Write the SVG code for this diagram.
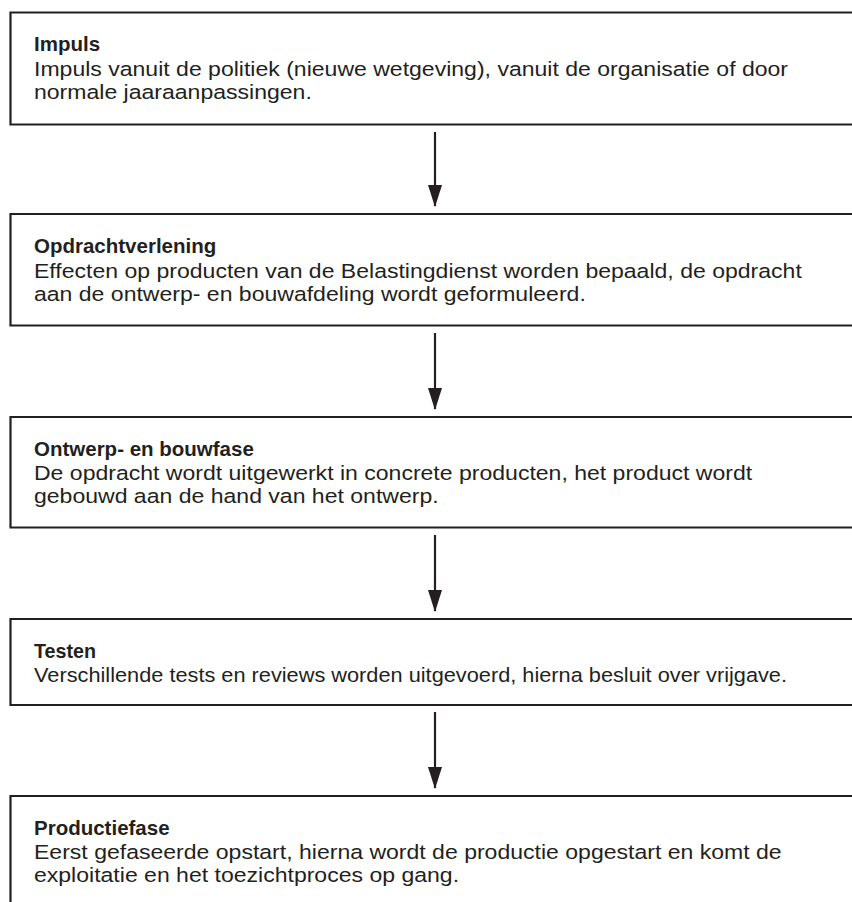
<svg xmlns="http://www.w3.org/2000/svg" width="852" height="902" viewBox="0 0 852 902">
<style>
  .box { fill: none; stroke: #231f20; stroke-width: 2.2; }
  .h { font-family: "Liberation Sans", Arial, sans-serif; font-weight: bold; font-size: 20.5px; fill: #231f20; }
  .t { font-family: "Liberation Sans", Arial, sans-serif; font-size: 20.5px; fill: #231f20; }
  .c { stroke: #231f20; stroke-width: 2.2; fill: none; }
  .ah { fill: #231f20; }
</style>
<defs>
  <marker id="arr" viewBox="0 0 22 14" refX="21" refY="7" markerWidth="22" markerHeight="14" markerUnits="userSpaceOnUse" orient="auto">
    <path d="M0,0 L22,7 L0,14 Z" class="ah"/>
  </marker>
</defs>
<rect width="852" height="902" fill="#ffffff"/>
<g id="impuls">
  <path class="box" d="M860,12.5 H10.5 V124.5 H860"/>
  <text class="h" x="34" y="51">Impuls</text>
  <g transform="matrix(1.124,0,0,1,-4.216,0)">
    <text class="t" x="34" y="76">Impuls vanuit de politiek (nieuwe wetgeving), vanuit de organisatie of door</text>
    <text class="t" x="34" y="99.5">normale jaaraanpassingen.</text>
  </g>
</g>
<g id="opdrachtverlening">
  <path class="box" d="M860,214 H10.5 V325.5 H860"/>
  <text class="h" x="34" y="253">Opdrachtverlening</text>
  <g transform="matrix(1.124,0,0,1,-4.216,0)">
    <text class="t" x="34" y="278">Effecten op producten van de Belastingdienst worden bepaald, de opdracht</text>
    <text class="t" x="34" y="301.5">aan de ontwerp- en bouwafdeling wordt geformuleerd.</text>
  </g>
</g>
<g id="ontwerp">
  <path class="box" d="M860,417 H10.5 V527.5 H860"/>
  <text class="h" x="34" y="455.5">Ontwerp- en bouwfase</text>
  <g transform="matrix(1.124,0,0,1,-4.216,0)">
    <text class="t" x="34" y="480">De opdracht wordt uitgewerkt in concrete producten, het product wordt</text>
    <text class="t" x="34" y="503.5">gebouwd aan de hand van het ontwerp.</text>
  </g>
</g>
<g id="testen">
  <path class="box" d="M860,619 H10.5 V705 H860"/>
  <text class="h" x="34" y="657.5" textLength="62" lengthAdjust="spacingAndGlyphs">Testen</text>
  <text class="t" x="34" y="682" textLength="753" lengthAdjust="spacingAndGlyphs">Verschillende tests en reviews worden uitgevoerd, hierna besluit over vrijgave.</text>
</g>
<g id="productiefase">
  <path class="box" d="M860,796 H10.5 V910"/>
  <text class="h" x="34" y="834.5">Productiefase</text>
  <g transform="matrix(1.124,0,0,1,-4.216,0)">
    <text class="t" x="34" y="859">Eerst gefaseerde opstart, hierna wordt de productie opgestart en komt de</text>
    <text class="t" x="34" y="882.5">exploitatie en het toezichtproces op gang.</text>
  </g>
</g>
<g id="connectors">
  <line class="c" x1="435" y1="132" x2="435" y2="206" marker-end="url(#arr)"/>
  <line class="c" x1="435" y1="333" x2="435" y2="409" marker-end="url(#arr)"/>
  <line class="c" x1="435" y1="535" x2="435" y2="611" marker-end="url(#arr)"/>
  <line class="c" x1="435" y1="712" x2="435" y2="788" marker-end="url(#arr)"/>
</g>
</svg>
